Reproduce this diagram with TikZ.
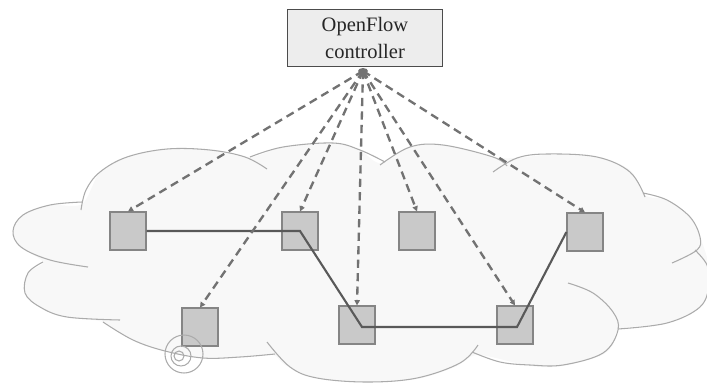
\documentclass[tikz,border=0pt]{standalone}
\usepackage{fontspec}
\setmainfont{Liberation Serif}
\usepackage{tikz}
\usetikzlibrary{arrows.meta}
\definecolor{cloudline}{HTML}{ABABAB}
\definecolor{cloudfill}{HTML}{F8F8F8}
\definecolor{swfill}{HTML}{C9C9C9}
\definecolor{swline}{HTML}{858585}
\definecolor{dashcol}{HTML}{727272}
\definecolor{pathcol}{HTML}{595959}
\newcommand{\lobe}[1]{\draw[cloudline, line width=0.9pt] plot[smooth, tension=0.6] coordinates {#1};}

\begin{document}
\begin{tikzpicture}[x=0.03cm, y=-0.03cm,
    switchbox/.style={draw=swline, fill=swfill, line width=1.1pt, minimum width=30.6pt, minimum height=32.3pt, inner sep=0pt},
    ctrlbox/.style={draw=black!70, fill=black!7, line width=0.9pt, minimum width=132.7pt, minimum height=49.3pt, align=center, inner sep=0pt, text=black!85, font=\fontsize{17.5}{22.5}\selectfont},
    ctrllink/.style={dashcol, line width=2pt, dash pattern=on 7pt off 4.5pt, -{Triangle[length=4.5pt,width=4.5pt]}},
    flowpath/.style={pathcol, line width=1.8pt, line join=miter}]
    \useasboundingbox (0,0) rectangle (707,383);
    % cloud
    \begin{scope}
        \clip (0,0) rectangle (707,383);
        \fill[cloudfill] plot[smooth cycle, tension=0.5] coordinates {(82,204) (100,172) (127,157) (167,149) (210,150) (250,157) (283,147) (333,143) (360,150) (380,163) (410,147) (443,145) (493,157) (517,158) (547,155) (597,157) (630,170) (645,195) (667,200) (690,217) (700,237) (708,262) (708,285) (700,307) (667,323) (620,329) (613,345) (600,356) (563,366) (530,366) (478,355) (455,367) (417,379) (367,382) (317,378) (285,365) (272,355) (230,358) (203,358) (167,351) (133,340) (103,322) (67,317) (40,307) (25,293) (28,273) (43,262) (21,247) (13,231) (23,215) (50,205)};
        \lobe{(81,210) (86,190) (100,172) (127,157) (167,149) (210,150) (245,157) (267,169)}
        \lobe{(82,202) (50,205) (23,215) (13,231) (21,247) (50,260) (88,267)}
        \lobe{(43,262) (28,273) (25,293) (40,307) (67,317) (120,320)}
        \lobe{(103,322) (133,340) (165,351) (203,358) (240,357) (275,354)}
        \lobe{(267,342) (290,367) (317,378) (367,382) (417,378) (460,363) (478,345)}
        \lobe{(472,352) (500,362) (530,365) (563,365) (603,353) (618,330) (613,312) (593,293) (568,283)}
        \lobe{(695,250) (707,265) (709,285) (700,307) (667,323) (618,329)}
        \lobe{(643,193) (667,200) (690,217) (700,237) (697,250) (672,263)}
        \lobe{(493,172) (517,158) (547,154) (597,157) (630,172) (645,197)}
        \lobe{(380,165) (410,147) (443,145) (493,157) (507,166)}
        \lobe{(250,157) (283,147) (333,143) (360,150) (385,162)}
    \end{scope}

    % controller and switches
    \node[ctrlbox] (ctrl) at (365,38) {OpenFlow\\controller};
    \coordinate (hub) at (363,71);
    \fill[dashcol] (hub) ellipse [x radius=5, y radius=3];
    \node[switchbox] (sw1) at (128,231) {};
    \node[switchbox] (sw2) at (300,231) {};
    \node[switchbox] (sw3) at (200,327) {};
    \node[switchbox] (sw4) at (357,325) {};
    \node[switchbox] (sw5) at (417,231) {};
    \node[switchbox] (sw6) at (515,325) {};
    \node[switchbox] (sw7) at (585,232) {};

    % flow path
    \draw[flowpath] (sw1.east) -- (sw2.center) -- ([shift={(5,2)}]sw4.center) -- ([shift={(2,2)}]sw6.center) -- (sw7.west);

    % control links
    \foreach \s in {sw1,sw2,sw3,sw4,sw5,sw6,sw7}
        \draw[ctrllink] (hub) -- (\s.north);

    % spiral mark
    \draw[cloudline, line width=0.9pt] (184,354) circle [radius=19] (181,356) circle [radius=10] (179,356) circle [radius=5];
\end{tikzpicture}
\end{document}
